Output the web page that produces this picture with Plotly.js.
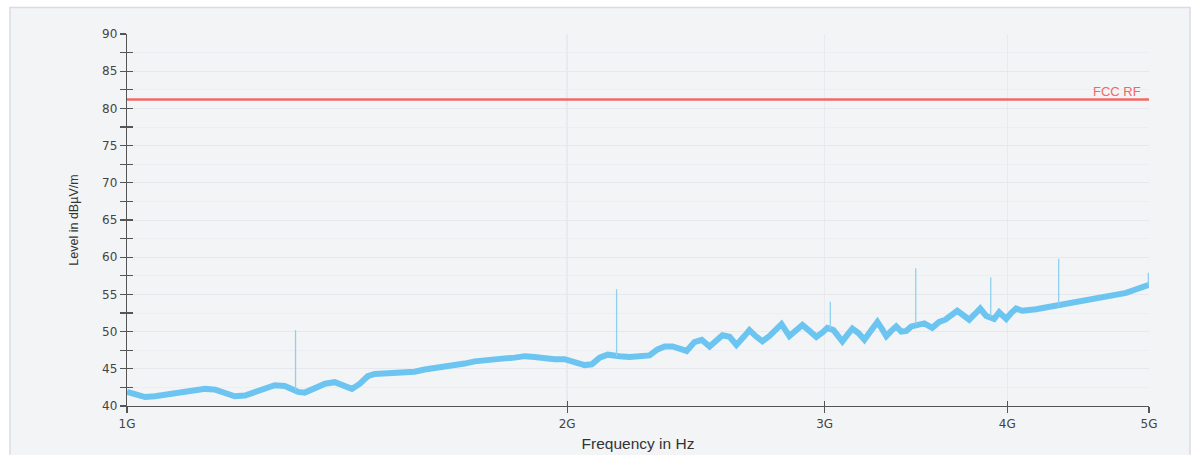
<!DOCTYPE html>
<html>
<head>
<meta charset="utf-8">
<script src="https://cdn.plot.ly/plotly-3.0.1.min.js"></script>
<style>
html,body{margin:0;padding:0;background:#ffffff;}
#chart{width:1202px;height:455px;}
</style>
</head>
<body>
<div id="chart"></div>
<script>
const freqGHz = [1.000,1.013,1.029,1.045,1.062,1.078,1.096,1.113,1.131,1.149,1.167,1.185,1.204,1.223,1.243,1.262,1.282,1.299,1.309,1.323,1.344,1.366,1.387,1.409,1.425,1.443,1.461,1.477,1.501,1.525,1.549,1.573,1.598,1.624,1.649,1.676,1.702,1.729,1.757,1.784,1.813,1.841,1.871,1.900,1.931,1.961,1.992,2.024,2.056,2.079,2.105,2.132,2.152,2.172,2.207,2.242,2.277,2.306,2.332,2.361,2.387,2.414,2.444,2.472,2.503,2.530,2.554,2.583,2.611,2.644,2.665,2.691,2.720,2.750,2.781,2.803,2.838,2.870,2.897,2.929,2.961,2.990,3.013,3.042,3.085,3.110,3.134,3.164,3.194,3.224,3.260,3.285,3.306,3.332,3.358,3.385,3.412,3.439,3.477,3.510,3.554,3.593,3.628,3.662,3.697,3.732,3.767,3.803,3.833,3.869,3.918,3.949,3.993,4.024,4.056,4.095,4.140,4.186,4.239,4.292,4.354,4.409,4.479,4.550,4.622,4.695,4.770,4.823,4.884,4.922,4.969,5.000];
const level   = [41.9,41.6,41.2,41.3,41.5,41.7,41.9,42.2,42.3,42.2,41.8,41.3,41.4,41.9,42.5,42.8,42.7,42.2,41.9,41.8,42.5,43.0,43.2,42.6,42.3,43.0,44.0,44.3,44.4,44.3,44.5,44.6,44.9,45.1,45.2,45.4,45.7,46.0,46.2,46.3,46.4,46.5,46.7,46.6,46.4,46.3,46.3,45.9,45.5,45.6,46.5,46.9,46.7,46.7,46.6,46.7,46.8,47.6,48.0,48.0,47.6,47.4,48.6,48.9,48.0,48.8,49.5,49.3,48.2,49.4,50.2,49.4,48.7,49.4,50.4,51.0,49.4,50.2,50.9,50.1,49.3,49.9,50.5,50.2,48.7,49.6,50.4,49.8,48.9,50.0,51.3,50.3,49.4,50.1,50.7,50.0,50.1,50.7,51.0,51.1,50.5,51.3,51.6,52.3,52.8,52.2,51.6,52.4,53.1,52.1,51.7,52.6,51.7,52.5,53.1,52.8,52.8,53.0,53.2,53.4,53.5,53.7,54.0,54.2,54.5,54.7,55.0,55.2,55.6,55.8,56.1,56.3];

// Narrow emission spikes: frequency, base level and peak level
const spikeFreq = [1.304,2.162,3.027,3.463,3.897,4.337,4.995];
const spikeBase = [42.2,46.7,50.4,51.0,52.0,53.4,56.2];
const spikeTop  = [50.2,55.7,54.0,58.5,57.3,59.8,57.9];

// Limit line
const limitName = "FCC RF";
const limitFreq = [1.0, 5.0];
const limitLevel = [81.2, 81.2];

// Axis ticks
const xTickVals = [1,2,3,4,5];
const xTickText = ["1G","2G","3G","4G","5G"];
const yTickVals = [40,45,50,55,60,65,70,75,80,85,90];

const spikeX = [], spikeY = [];
spikeFreq.forEach((f,i)=>{ spikeX.push(f,f,null); spikeY.push(spikeBase[i],spikeTop[i],null); });

const traces = [
  {x: freqGHz, y: level, type:'scatter', mode:'lines',
   line:{color:'#6cc4f0', width:6}, hoverinfo:'skip'},
  {x: spikeX, y: spikeY, type:'scatter', mode:'lines',
   line:{color:'#8fd0f0', width:1.3}, hoverinfo:'skip', connectgaps:false},
  {x: limitFreq, y: limitLevel, type:'scatter', mode:'lines',
   line:{color:'#f06868', width:2.5}, hoverinfo:'skip'},
  // invisible helper trace for inside ticks
  {x:[1,5], y:[40,90], xaxis:'x2', yaxis:'y2', type:'scatter', mode:'markers',
   marker:{opacity:0}, hoverinfo:'skip'}
];

const tickFont = {family:'DejaVu Sans, Arial, sans-serif', size:12, color:'#444'};
const ax = {
  showline:true, linecolor:'#555', linewidth:1.3,
  ticks:'outside', ticklen:6, tickcolor:'#555', tickwidth:1.3,
  tickfont: tickFont, zeroline:false
};

const layout = {
  width:1202, height:455,
  margin:{l:127, r:53, t:34, b:49},
  paper_bgcolor:'#ffffff',
  plot_bgcolor:'rgba(0,0,0,0)',
  showlegend:false,
  xaxis: Object.assign({}, ax, {
    type:'log', range:[0, Math.log10(5)],
    tickvals:xTickVals, ticktext:xTickText,
    showgrid:true, gridcolor:'#e8eaf0', gridwidth:1.5,
    title:{text:'Frequency in Hz', font:{family:'Liberation Sans, Arial, sans-serif', size:15.5, color:'#333'}, standoff:8}
  }),
  yaxis: Object.assign({}, ax, {
    range:[40,90], tickvals:yTickVals,
    showgrid:true, gridcolor:'#e6e8ee', gridwidth:1,
    minor:{dtick:2.5, ticks:'outside', ticklen:6, tickcolor:'#555', tickwidth:1.3, showgrid:true, gridcolor:'#eceef3'},
    title:{text:'Level in dBµV/m', font:{family:'Liberation Sans Narrow, Liberation Sans, Arial, sans-serif', size:12.5, color:'#333'}, standoff:20}
  }),
  xaxis2: {overlaying:'x', type:'log', range:[0, Math.log10(5)], tickvals:xTickVals,
    showticklabels:false, ticks:'inside', ticklen:5, tickcolor:'#555', tickwidth:1.3,
    showgrid:false, showline:false, zeroline:false, anchor:'y'},
  yaxis2: {overlaying:'y', range:[40,90], tickvals:yTickVals,
    showticklabels:false, ticks:'inside', ticklen:6, tickcolor:'#555', tickwidth:1.3,
    minor:{dtick:2.5, ticks:'inside', ticklen:6, tickcolor:'#555', tickwidth:1.3},
    showgrid:false, showline:false, zeroline:false, anchor:'x', side:'left'},
  shapes:[
    {type:'rect', xref:'paper', yref:'paper', x0:-0.1145, x1:1.0401, y0:-0.14, y1:1.0713,
     fillcolor:'#f3f4f6', line:{color:'#d9dce6', width:1.5}, layer:'below'}
  ],
  annotations:[
    {xref:'paper', yref:'y', x:0.994, y:81.2, xanchor:'right', yanchor:'bottom',
     text:limitName, showarrow:false, yshift:-2,
     font:{family:'Liberation Sans, Arial, sans-serif', size:13, color:'#f06868'}}
  ]
};

Plotly.newPlot('chart', traces, layout, {displayModeBar:false, staticPlot:true});
</script>
</body>
</html>
